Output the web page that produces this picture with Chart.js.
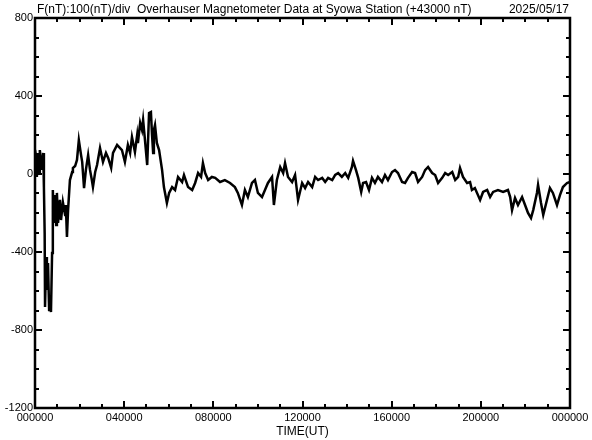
<!DOCTYPE html>
<html>
<head>
<meta charset="utf-8">
<script src="https://cdn.jsdelivr.net/npm/chart.js@4/dist/chart.umd.min.js"></script>
<style>
  html, body { margin: 0; padding: 0; background: #fff; }
  #wrap { width: 592px; height: 440px; }
</style>
</head>
<body>
<div id="wrap"><canvas id="magChart" width="592" height="440"></canvas></div>
<script>
// Syowa Station Overhauser magnetometer, 2025/05/17
// time in minutes since 00:00 UT, F in nT minus the 43000 nT base
const minutes = [
  0, 3, 5, 8, 11, 13, 16, 19, 22, 24, 26, 27, 30, 32, 35, 38, 40, 43, 46, 48,
  51, 54, 57, 59, 62, 67, 70, 75, 81, 83, 86, 89, 94, 100, 102, 108, 113, 118, 124, 127,
  132, 137, 143, 148, 153, 156, 162, 167, 175, 183, 191, 197, 205, 210, 221, 229, 234, 242, 250, 256,
  261, 269, 275, 277, 283, 288, 291, 296, 302, 307, 312, 315, 318, 320, 323, 328, 334, 342, 347, 355,
  361, 369, 377, 385, 396, 401, 412, 423, 431, 439, 447, 452, 458, 466, 476, 485, 498, 511, 525, 538,
  546, 557, 565, 573, 584, 592, 600, 611, 619, 627, 638, 643, 651, 660, 668, 673, 681, 692, 700, 708,
  719, 727, 735, 746, 754, 762, 773, 781, 789, 800, 808, 816, 826, 835, 843, 853, 856, 864, 870, 878,
  883, 891, 899, 907, 915, 923, 934, 942, 950, 961, 969, 977, 988, 996, 1004, 1015, 1023, 1031, 1042, 1050,
  1058, 1069, 1077, 1085, 1096, 1104, 1112, 1123, 1131, 1139, 1144, 1152, 1163, 1171, 1176, 1184, 1198, 1206, 1217, 1225,
  1233, 1246, 1260, 1273, 1279, 1284, 1292, 1300, 1311, 1319, 1327, 1335, 1341, 1351, 1354, 1362, 1368, 1378, 1386, 1394,
  1405, 1413, 1421, 1432, 1440
];
const fValues = [
  123, 87, -15, 108, 5, 123, 72, 21, 108, -67, -303, -682, -426, -595, -456, -697, -646, -708, -405, -82,
  -251, -108, -262, -97, -251, -133, -236, -144, -210, -159, -323, -185, -31, 10, 31, 41, 72, 174, 97, 62,
  -72, 21, 97, 21, -31, -67, 10, 46, 133, 62, 108, 82, 31, 108, 149, 133, 123, 62, 149, 108,
  190, 113, 200, 159, 262, 226, 277, 174, 46, 313, 318, 200, 108, 226, 251, 159, 123, 21, -67, -149,
  -97, -67, -82, -15, -41, -5, -67, -82, -46, 5, -15, 56, 5, -31, -15, -20, -41, -31, -46, -67,
  -97, -159, -82, -118, -46, -31, -97, -118, -82, -46, -15, -159, -31, 36, 5, 56, -15, -41, -5, -133,
  -46, -72, -41, -67, -15, -31, -20, -41, -20, -31, -5, 5, -15, 5, -20, 36, 67, 20, -20, -92,
  -46, -41, -82, -20, -46, -15, -41, -5, -31, 10, 20, 5, -41, -46, -20, 10, 5, -41, -15, 20,
  36, 5, -5, -46, -20, 5, -5, 10, -31, -15, 31, -15, -46, -41, -82, -72, -133, -92, -82, -118,
  -92, -82, -92, -82, -118, -185, -123, -159, -118, -159, -200, -226, -185, -97, -56, -149, -210, -133, -72, -97,
  -159, -108, -67, -46, -41
];
const xTickMinutes = [0, 240, 480, 720, 960, 1200, 1440];
const xTickLabels = ["000000", "040000", "080000", "120000", "160000", "200000", "000000"];
const yTickValues = [-1200, -800, -400, 0, 400, 800];

const titleText = "F(nT):100(nT)/div  Overhauser Magnetometer Data at Syowa Station (+43000 nT)";
const dateText = "2025/05/17";
const fontFamily = "'Liberation Sans', Arial, sans-serif";

// frame, inward tick marks and header text
const frameTicks = {
  id: "frameTicks",
  afterDatasetsDraw(chart) {
    const { ctx, chartArea: a, scales } = chart;
    ctx.save();
    ctx.strokeStyle = "#000";
    ctx.lineWidth = 2;
    ctx.beginPath();
    for (let m = 60; m < 1440; m += 60) {
      const px = Math.round(scales.x.getPixelForValue(m));
      const len = m % 240 === 0 ? 7 : 4;
      ctx.moveTo(px, a.bottom); ctx.lineTo(px, a.bottom - len);
      ctx.moveTo(px, a.top); ctx.lineTo(px, a.top + len);
    }
    for (let v = -1100; v < 800; v += 100) {
      const py = Math.round(scales.y.getPixelForValue(v));
      const len = v % 400 === 0 ? 7 : 4;
      ctx.moveTo(a.left, py); ctx.lineTo(a.left + len, py);
      ctx.moveTo(a.right, py); ctx.lineTo(a.right - len, py);
    }
    ctx.stroke();
    ctx.lineWidth = 2.5;
    ctx.strokeRect(a.left, a.top, a.right - a.left, a.bottom - a.top);

    ctx.fillStyle = "#000";
    ctx.font = "12px " + fontFamily;
    ctx.textBaseline = "alphabetic";
    ctx.textAlign = "left";
    ctx.fillText(titleText, 37, 13);
    ctx.textAlign = "right";
    ctx.fillText(dateText, 569, 13);
    ctx.restore();
  }
};

const ctx = document.getElementById("magChart").getContext("2d");
new Chart(ctx, {
  type: "line",
  data: {
    datasets: [
      {
        data: minutes.map((m, i) => ({ x: m, y: fValues[i] })),
        borderColor: "#000",
        borderWidth: 2.5,
        pointRadius: 0,
        tension: 0,
        fill: false,
      },
    ],
  },
  options: {
    responsive: false,
    animation: false,
    devicePixelRatio: 1,
    layout: { padding: { top: 18, right: 22, left: 0, bottom: 0 } },
    plugins: {
      legend: { display: false },
      tooltip: { enabled: false },
      title: { display: false },
    },
    scales: {
      x: {
        type: "linear",
        min: 0,
        max: 1440,
        afterBuildTicks: (scale) => {
          scale.ticks = xTickMinutes.map((v) => ({ value: v }));
        },
        afterFit: (scale) => {
          scale.height = 32;
        },
        ticks: {
          autoSkip: false,
          maxRotation: 0,
          padding: 3,
          color: "#000",
          font: { family: fontFamily, size: 11 },
          callback: (value, index) => xTickLabels[index],
        },
        grid: { display: false, drawTicks: false, tickLength: 0 },
        border: { display: false },
        title: {
          display: true,
          text: "TIME(UT)",
          color: "#000",
          font: { family: fontFamily, size: 12 },
          padding: { top: 0, bottom: 1 },
        },
      },
      y: {
        min: -1200,
        max: 800,
        afterBuildTicks: (scale) => {
          scale.ticks = yTickValues.map((v) => ({ value: v }));
        },
        afterFit: (scale) => {
          scale.width = 35;
        },
        ticks: {
          padding: 2,
          color: "#000",
          font: { family: fontFamily, size: 11 },
          callback: (value) => String(value),
        },
        grid: { display: false, drawTicks: false, tickLength: 0 },
        border: { display: false },
      },
    },
  },
  plugins: [frameTicks],
});
</script>
</body>
</html>
